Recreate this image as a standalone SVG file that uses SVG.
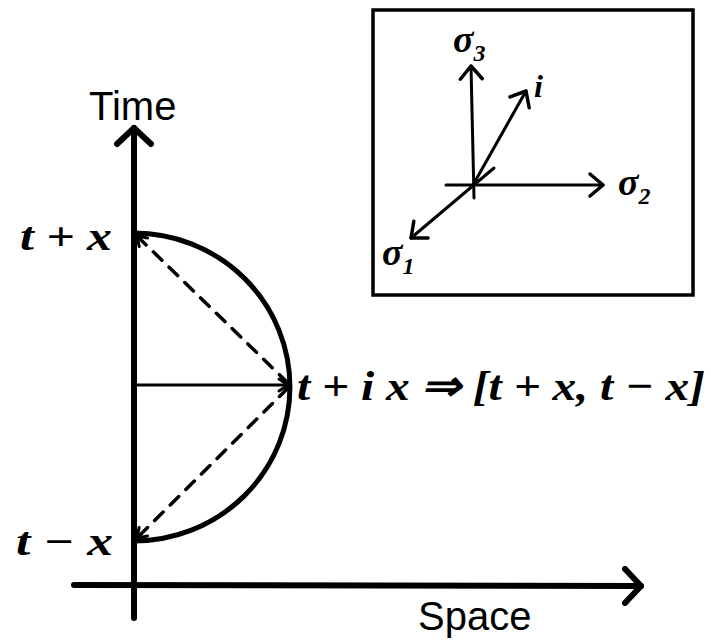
<svg xmlns="http://www.w3.org/2000/svg" width="711" height="642" viewBox="0 0 711 642">
<defs>
<style>
.ln{fill:none;stroke:#000;stroke-linecap:round;stroke-linejoin:round}
.lbl{font-family:"Liberation Sans",sans-serif;fill:#000}
.math{font-family:"Liberation Serif",serif;font-style:italic;font-weight:bold;fill:#000}
</style>
<marker id="big" markerUnits="userSpaceOnUse" viewBox="-20 -20 40 40" markerWidth="40" markerHeight="40" orient="auto" refX="0" refY="0">
<path d="M-16,-17 L0,0 L-16,17" fill="none" stroke="#000" stroke-width="6" stroke-linecap="round" stroke-linejoin="round"/>
</marker>
<marker id="mid" markerUnits="userSpaceOnUse" viewBox="-20 -20 40 40" markerWidth="40" markerHeight="40" orient="auto" refX="0" refY="0">
<path d="M-13,-11 L0,0 L-13,11" fill="none" stroke="#000" stroke-width="3.5" stroke-linecap="round" stroke-linejoin="round"/>
</marker>
<marker id="sm" markerUnits="userSpaceOnUse" viewBox="-20 -20 40 40" markerWidth="40" markerHeight="40" orient="auto" refX="0" refY="0">
<path d="M-9,-6 L0,0 L-9,6" fill="none" stroke="#000" stroke-width="3" stroke-linecap="round" stroke-linejoin="round"/>
</marker>
</defs>
<rect width="711" height="642" fill="#fff"/>

<g id="connectors">
<path id="time-axis" class="ln" d="M134,618 L134,128" stroke-width="6" marker-end="url(#big)"/>
<path id="space-axis" class="ln" d="M74,585 L641,586" stroke-width="6" marker-end="url(#big)"/>
<path id="semicircle" class="ln" d="M134,233 A156,154 0 0 1 134,541" stroke-width="5"/>
<path id="radius" class="ln" d="M134,385 L288,385" stroke-width="3" marker-end="url(#sm)"/>
<path id="dash-up" class="ln" d="M288,383 L137,236" stroke-width="3.5" stroke-dasharray="12,10" marker-end="url(#sm)"/>
<path id="dash-down" class="ln" d="M288,388 L137,538" stroke-width="3.5" stroke-dasharray="12,10" marker-end="url(#sm)"/>
<path id="s3-axis" class="ln" d="M474,198 L471,66" stroke-width="3" marker-end="url(#mid)"/>
<path id="s2-axis" class="ln" d="M446,185 L603,185" stroke-width="3" marker-end="url(#mid)"/>
<path id="i-axis" class="ln" d="M473,185 L526,91" stroke-width="3" marker-end="url(#mid)"/>
<path id="s1-axis" class="ln" d="M494,168 L411,238" stroke-width="3" marker-end="url(#mid)"/>
</g>

<g id="inset-box">
<rect x="373" y="10" width="320" height="285" fill="none" stroke="#000" stroke-width="3.5"/>
</g>

<g id="time-label"><text class="lbl" x="89" y="120" font-size="40">Time</text></g>
<g id="space-label"><text class="lbl" x="418" y="630" font-size="40">Space</text></g>
<g id="t-plus-x"><text class="math" x="20" y="250" font-size="40" textLength="92" lengthAdjust="spacingAndGlyphs">t + x</text></g>
<g id="t-minus-x"><text class="math" x="16" y="555" font-size="40" textLength="97" lengthAdjust="spacingAndGlyphs">t − x</text></g>
<g id="result-label"><text class="math" x="297" y="400" font-size="42" textLength="408" lengthAdjust="spacingAndGlyphs">t + i x ⇒ [t + x, t − x]</text></g>

<g id="sigma3"><text class="math" x="453" y="52" font-size="38">σ<tspan font-size="24" dy="9">3</tspan></text></g>
<g id="sigma2"><text class="math" x="618" y="195" font-size="38">σ<tspan font-size="24" dy="9">2</tspan></text></g>
<g id="sigma1"><text class="math" x="382" y="265" font-size="38">σ<tspan font-size="24" dy="9">1</tspan></text></g>
<g id="i-label"><text class="math" x="534" y="97" font-size="32">i</text></g>
</svg>
